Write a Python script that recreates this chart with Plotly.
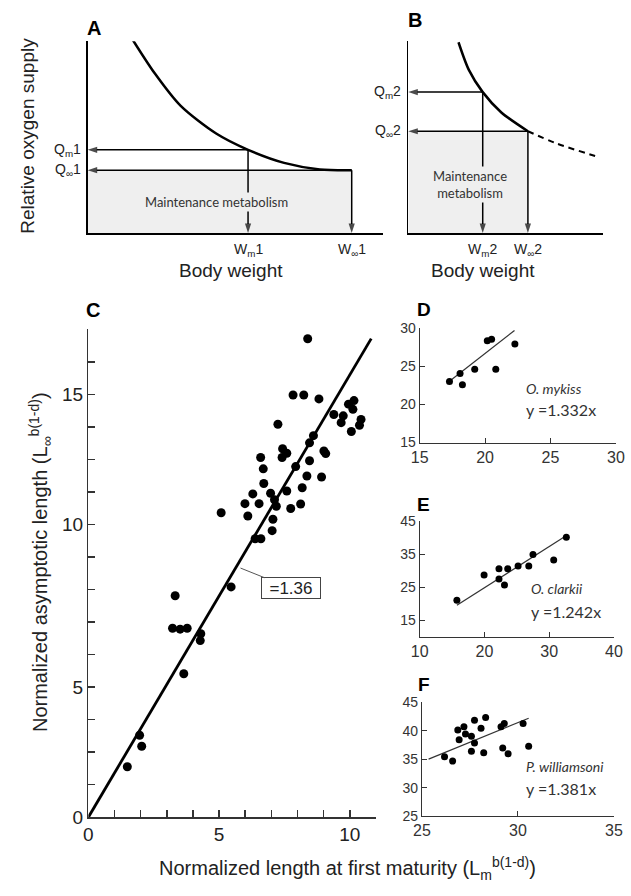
import plotly.graph_objects as go

W, H = 631, 896
FONT = "Liberation Sans, Arial, sans-serif"
HUM = "Lato, Open Sans, sans-serif"

# ---------------- Panel A / B schematic (arbitrary units) ----------------
a_curve_x = [1.54, 2.27, 3.15, 4.35, 5.43, 6.65, 7.86, 8.94]
a_curve_y = [10.04, 8.33, 6.63, 5.19, 4.34, 3.66, 3.32, 3.28]
a_wm, a_qm = 5.43, 4.34
a_winf, a_qinf = 8.94, 3.28

b_curve_x = [1.70, 2.05, 2.52, 3.15, 4.05]
b_curve_y = [9.95, 8.51, 7.35, 6.29, 5.31]
b_dash_x = [4.05, 5.01, 6.49]
b_dash_y = [5.31, 4.68, 3.94]
b_wm, b_qm = 2.52, 7.35
b_winf, b_qinf = 4.05, 5.31

# ---------------- Panel C ----------------
c_x = [8.39, 7.83, 8.24, 8.82, 9.39, 9.75, 9.67, 9.95, 10.16, 10.12, 10.43, 10.37, 10.06,
       7.25, 8.61, 8.46, 7.43, 7.59, 7.41, 9.01, 9.08, 6.59, 6.69, 7.93, 8.46, 8.36, 8.92,
       6.71, 8.18, 6.29, 6.97, 7.59, 5.99, 6.53, 7.12, 7.19, 7.74, 8.12, 5.08, 6.10, 7.06,
       7.03, 6.38, 6.60, 5.46, 3.32, 3.22, 3.51, 3.78, 4.30, 4.28, 3.65, 1.96, 2.04, 1.49]
c_y = [14.71, 12.98, 12.98, 12.86, 12.38, 12.34, 12.13, 12.70, 12.81, 12.54, 12.23, 12.05, 11.86,
       12.08, 11.73, 11.51, 11.33, 11.19, 11.06, 11.26, 11.18, 11.06, 10.71, 10.78, 10.96, 10.49, 10.46,
       10.26, 10.13, 9.94, 9.96, 10.03, 9.64, 9.64, 9.76, 9.56, 9.49, 9.63, 9.36, 9.26, 9.16,
       8.81, 8.56, 8.56, 7.08, 6.81, 5.81, 5.78, 5.81, 5.64, 5.43, 4.41, 2.52, 2.18, 1.55]
c_slope = 1.36
c_line_x = [0, 10.82]
c_xtick_vals = [0, 5, 10]
c_xtick_text = ["0", "5", "10"]
c_xminor_vals = list(range(0, 12))
c_ytick_vals = [0, 4, 9, 13]
c_ytick_text = ["0", "5", "10", "15"]
c_yminor_vals = list(range(0, 16))

# ---------------- Panel D ----------------
d_x = [17.28, 18.09, 18.27, 19.21, 20.17, 20.50, 20.82, 22.28]
d_y = [22.97, 24.03, 22.54, 24.59, 28.29, 28.51, 24.59, 27.87]
d_slope = 1.332
d_line_x = [17.4, 22.25]

# ---------------- Panel E ----------------
e_x = [15.75, 19.95, 22.25, 22.25, 23.1, 23.6, 25.2, 26.85, 27.5, 30.7, 32.65]
e_y = [21.1, 28.7, 30.6, 27.5, 25.7, 30.6, 31.4, 31.4, 34.9, 33.2, 40.1]
e_slope = 1.242
e_line_x = [15.75, 32.5]

# ---------------- Panel F ----------------
f_x = [26.18, 26.60, 26.87, 26.94, 27.19, 27.27, 27.58, 27.58, 27.74, 27.74, 28.08, 28.22,
       28.32, 29.12, 29.21, 29.29, 29.49, 30.27, 30.56]
f_y = [35.43, 34.68, 40.13, 38.41, 40.70, 39.44, 39.04, 36.40, 41.85, 37.84, 40.42, 36.12,
       42.31, 40.70, 36.98, 41.28, 35.95, 41.28, 37.26]
f_slope = 1.381
f_line_x = [25.35, 30.56]


def px_dom_x(a, b):
    return [a / W, b / W]


def px_dom_y(bottom, top):
    return [1 - bottom / H, 1 - top / H]


fig = go.Figure()

# shaded maintenance areas
shapes = [
    dict(type="rect", xref="x", yref="y", x0=0, x1=a_winf, y0=0, y1=a_qinf,
         fillcolor="#efefef", line=dict(width=0), layer="below"),
    dict(type="rect", xref="x2", yref="y2", x0=0, x1=b_winf, y0=0, y1=b_qinf,
         fillcolor="#efefef", line=dict(width=0), layer="below"),
]


def add_arrow(xa, ya, x0, y0, x1, y1):
    fig.add_trace(go.Scatter(x=[x0, x1], y=[y0, y1], mode="lines+markers", xaxis=xa, yaxis=ya,
                             line=dict(color="black", width=1.5),
                             marker=dict(symbol="arrow", size=[0, 10], angleref="previous",
                                         color="black", line=dict(width=0)),
                             cliponaxis=False, showlegend=False, hoverinfo="skip"))


# ---- A ----
fig.add_trace(go.Scatter(x=a_curve_x, y=a_curve_y, mode="lines", xaxis="x", yaxis="y",
                         line=dict(color="black", width=2.5, shape="spline", smoothing=0.8),
                         showlegend=False, hoverinfo="skip"))
add_arrow("x", "y", a_wm, a_qm, 0, a_qm)
add_arrow("x", "y", a_winf, a_qinf, 0, a_qinf)
add_arrow("x", "y", a_wm, a_qm, a_wm, 0)
add_arrow("x", "y", a_winf, a_qinf, a_winf, 0)

# ---- B ----
fig.add_trace(go.Scatter(x=b_curve_x, y=b_curve_y, mode="lines", xaxis="x2", yaxis="y2",
                         line=dict(color="black", width=2.5, shape="spline", smoothing=0.8),
                         showlegend=False, hoverinfo="skip"))
fig.add_trace(go.Scatter(x=b_dash_x, y=b_dash_y, mode="lines", xaxis="x2", yaxis="y2",
                         line=dict(color="black", width=2, dash="6px,5px", shape="spline", smoothing=0.8),
                         showlegend=False, hoverinfo="skip"))
add_arrow("x2", "y2", b_wm, b_qm, 0, b_qm)
add_arrow("x2", "y2", b_winf, b_qinf, 0, b_qinf)
add_arrow("x2", "y2", b_wm, b_qm, b_wm, 0)
add_arrow("x2", "y2", b_winf, b_qinf, b_winf, 0)

# ---- C ----
fig.add_trace(go.Scatter(x=c_line_x, y=[c_slope * v for v in c_line_x], mode="lines",
                         xaxis="x3", yaxis="y3", line=dict(color="black", width=2.8),
                         showlegend=False, hoverinfo="skip"))
fig.add_trace(go.Scatter(x=c_x, y=c_y, mode="markers", xaxis="x3", yaxis="y3",
                         marker=dict(color="black", size=9), showlegend=False))

# ---- D, E, F ----
for xs, ys, slope, lx, xa, ya in [
    (d_x, d_y, d_slope, d_line_x, "x4", "y4"),
    (e_x, e_y, e_slope, e_line_x, "x5", "y5"),
    (f_x, f_y, f_slope, f_line_x, "x6", "y6"),
]:
    fig.add_trace(go.Scatter(x=lx, y=[slope * v for v in lx], mode="lines", xaxis=xa, yaxis=ya,
                             line=dict(color="#333", width=1.2), showlegend=False, hoverinfo="skip"))
    fig.add_trace(go.Scatter(x=xs, y=ys, mode="markers", xaxis=xa, yaxis=ya,
                             marker=dict(color="black", size=7), showlegend=False))

schem_axis = dict(showline=True, linecolor="black", linewidth=1.5, showticklabels=False,
                  ticks="", showgrid=False, zeroline=False, fixedrange=True)


def small_axis(rng, tv, fs, dom, anchor):
    return dict(range=rng, tickvals=tv, ticks="inside", ticklen=5, tickwidth=1, tickcolor="#333",
                showline=True, linecolor="#333", linewidth=1, showgrid=False, zeroline=False,
                ticklabeloverflow="allow",
                tickfont=dict(family=FONT, size=fs, color="#333"), domain=dom, anchor=anchor)


c_common = dict(ticks="inside", ticklen=7, tickwidth=1.5, tickcolor="#333", showline=True,
                linecolor="#333", linewidth=1.5, showgrid=False, zeroline=False,
                tickfont=dict(family=FONT, size=19, color="#222"))

layout = dict(
    width=W, height=H, autosize=False,
    margin=dict(l=0, r=0, t=0, b=0),
    paper_bgcolor="white", plot_bgcolor="white",
    showlegend=False,
    xaxis=dict(schem_axis, range=[0, 10], domain=px_dom_x(81, 385), anchor="y"),
    yaxis=dict(schem_axis, range=[0, 10], domain=px_dom_y(230, 34), anchor="x"),
    xaxis2=dict(schem_axis, range=[0, 6.6], domain=px_dom_x(411, 611.7), anchor="y2"),
    yaxis2=dict(schem_axis, range=[0, 10], domain=px_dom_y(230, 34), anchor="x2"),
    xaxis3=dict(c_common, range=[0, 11], tickvals=c_xtick_vals, ticktext=c_xtick_text,
                minor=dict(tickvals=c_xminor_vals, ticks="inside", ticklen=7, tickwidth=1.5,
                           tickcolor="#333"),
                domain=px_dom_x(81.7, 377.7), anchor="y3"),
    yaxis3=dict(c_common, range=[0, 15], tickvals=c_ytick_vals, ticktext=c_ytick_text,
                minor=dict(tickvals=c_yminor_vals, ticks="inside", ticklen=7, tickwidth=1.5,
                           tickcolor="#333"),
                domain=px_dom_y(826.7, 328.3), anchor="x3"),
    xaxis4=small_axis([15, 30], [15, 20, 25, 30], 16, px_dom_x(422.7, 624.7), "y4"),
    yaxis4=small_axis([15, 30], [15, 20, 25, 30], 14, px_dom_y(444, 326.7), "x4"),
    xaxis5=small_axis([10, 40], [10, 20, 30, 40], 16, px_dom_x(422.7, 622.7), "y5"),
    yaxis5=small_axis([10, 45], [15, 25, 35, 45], 14, px_dom_y(642.7, 524), "x5"),
    xaxis6=small_axis([25, 35], [25, 30, 35], 16, px_dom_x(425, 622.7), "y6"),
    yaxis6=small_axis([25, 45], [25, 30, 35, 40, 45], 14, px_dom_y(825.7, 709.3), "x6"),
    shapes=shapes,
)

ann = []
lab_font = dict(family=FONT, size=14, color="#222")


def ylab(xr, yr, y, text):
    return dict(xref=xr, yref=yr, x=0, y=y, text=text, showarrow=False, xanchor="right",
                yanchor="middle", xshift=-5, font=lab_font)


def xlab(xr, yr, x, text):
    return dict(xref=xr, yref=yr, x=x, y=0, text=text, showarrow=False, xanchor="center",
                yanchor="top", yshift=-6, font=lab_font)


ann += [ylab("x", "y", a_qm, "Q<sub>m</sub>1"), ylab("x", "y", a_qinf, "Q<sub>∞</sub>1"),
        xlab("x", "y", a_wm, "W<sub>m</sub>1"), xlab("x", "y", a_winf, "W<sub>∞</sub>1"),
        ylab("x2", "y2", b_qm, "Q<sub>m</sub>2"), ylab("x2", "y2", b_qinf, "Q<sub>∞</sub>2"),
        xlab("x2", "y2", b_wm, "W<sub>m</sub>2"), xlab("x2", "y2", b_winf, "W<sub>∞</sub>2")]

# Maintenance metabolism texts (drawn over the arrow lines)
ann += [
    dict(xref="paper", yref="paper", x=214 / W, y=1 - 198 / H, text="Maintenance metabolism",
         showarrow=False, xanchor="center", yanchor="middle", bgcolor="#efefef",
         font=dict(family=HUM, size=13, color="#333")),
    dict(xref="paper", yref="paper", x=474.3 / W, y=1 - 180 / H, text="Maintenance<br>metabolism",
         showarrow=False, xanchor="center", yanchor="middle", bgcolor="#efefef",
         font=dict(family=HUM, size=13, color="#333")),
]

# Axis titles
title_font = dict(family=FONT, size=19, color="#222")
ann += [
    dict(xref="paper", yref="paper", x=19 / W, y=1 - 130 / H, text="Relative oxygen supply",
         textangle=-90, showarrow=False, xanchor="center", yanchor="middle", font=title_font),
    dict(xref="paper", yref="paper", x=229 / W, y=1 - 268 / H, text="Body weight",
         showarrow=False, xanchor="center", yanchor="middle", font=title_font),
    dict(xref="paper", yref="paper", x=488 / W, y=1 - 268 / H, text="Body weight",
         showarrow=False, xanchor="center", yanchor="middle", font=title_font),
    dict(xref="paper", yref="paper", x=33 / W, y=1 - 566 / H,
         text="Normalized asymptotic length (L<sub>∞</sub><sup>b(1-d)</sup>)",
         textangle=-90, showarrow=False, xanchor="center", yanchor="middle",
         font=dict(family=FONT, size=20, color="#222")),
    dict(xref="paper", yref="paper", x=348 / W, y=1 - 879 / H,
         text="Normalized length at first maturity (L<sub>m</sub><sup>b(1-d)</sup>)",
         showarrow=False, xanchor="center", yanchor="middle",
         font=dict(family=FONT, size=20, color="#222")),
]

# Panel letters
for letter, cx, cy, fs in [("A", 87, 20, 20), ("B", 417.5, 12.5, 20), ("C", 86.5, 309, 20),
                           ("D", 427, 308, 19), ("E", 427, 507, 19), ("F", 427, 691, 19)]:
    ann.append(dict(xref="paper", yref="paper", x=cx / W, y=1 - cy / H, text="<b>%s</b>" % letter,
                    showarrow=False, xanchor="center", yanchor="middle",
                    font=dict(family=FONT, size=fs, color="black")))

# Slope box in C
ann.append(dict(xref="x3", yref="y3", axref="x3", ayref="y3", x=5.82, y=7.66, ax=7.74, ay=7.04,
                text="=1.36", showarrow=True, arrowhead=0, arrowwidth=1, arrowcolor="#555",
                bordercolor="#444", borderwidth=1, borderpad=1, bgcolor="white",
                width=56, height=18, font=dict(family=FONT, size=17, color="#222")))

# Species labels
for name, eq, px, py1, py2 in [("O. mykiss", "y =1.332x", 530, 388.7, 410),
                               ("O. clarkii", "y =1.242x", 535, 592.7, 616.7),
                               ("P. williamsoni", "y =1.381x", 530, 775, 797.3)]:
    ann.append(dict(xref="paper", yref="paper", x=px / W, y=1 - py1 / H, text="<i>%s</i>" % name,
                    showarrow=False, xanchor="left", yanchor="middle",
                    font=dict(family=HUM, size=14, color="#333")))
    ann.append(dict(xref="paper", yref="paper", x=px / W, y=1 - py2 / H, text=eq,
                    showarrow=False, xanchor="left", yanchor="middle",
                    font=dict(family=HUM, size=16, color="#333")))

layout["annotations"] = ann
fig.update_layout(layout)

post = ("var d=document.getElementById('{plot_id}');"
        "d.style.position='fixed';d.style.left='0px';d.style.top='0px';"
        "document.body.style.margin='0';"
        "document.documentElement.style.overflow='hidden';"
        "document.body.style.overflow='hidden';")
fig.write_html("out.html", config={"displayModeBar": False, "staticPlot": True}, post_script=post)
